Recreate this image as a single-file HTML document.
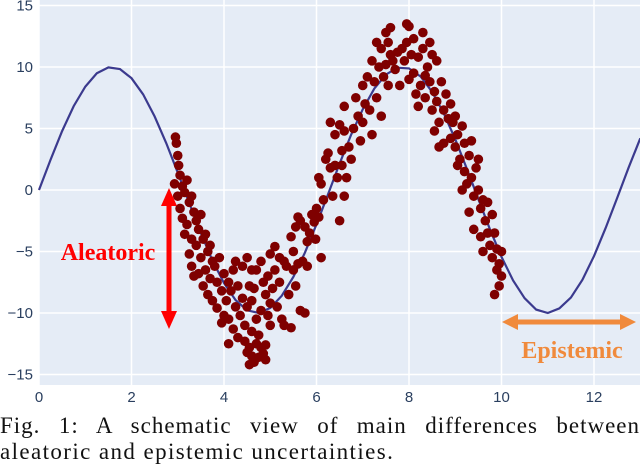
<!DOCTYPE html>
<html><head><meta charset="utf-8"><style>
body{margin:0;width:640px;height:470px;background:#fff;overflow:hidden;font-family:"Liberation Sans",sans-serif}
#cap{position:absolute;left:0;top:413px;width:640px;font-family:"Liberation Serif",serif;font-size:23px;letter-spacing:1.4px;line-height:26px;color:#111;text-align:justify;text-align-last:left}
#cap .l1{display:block;text-align:justify;text-align-last:justify;letter-spacing:1px}
</style></head><body>
<svg id="chart" width="640" height="405" style="position:absolute;left:0;top:0" xmlns="http://www.w3.org/2000/svg">
<rect x="39" y="0" width="601" height="385" fill="#e5ecf6"/>
<g id="grid"></g>
<g id="ticks" font-size="15" fill="#2a3f5f"></g>
<path id="curve" fill="none" stroke="#3b3a8e" stroke-width="2.2"/>
<g id="pts" fill="#7f0000"></g>
<g fill="#ff0000">
<rect x="166.5" y="202" width="5" height="114"/>
<polygon points="169,188 161,206 177,206"/>
<polygon points="169,329 161,311 177,311"/>
</g>
<text x="108" y="260" text-anchor="middle" font-family="Liberation Serif,serif" font-weight="bold" font-size="24" fill="#ff0000">Aleatoric</text>
<g fill="#f08a3c">
<rect x="515" y="319.5" width="108" height="5"/>
<polygon points="502,322 518,314 518,330"/>
<polygon points="636,322 620,314 620,330"/>
</g>
<text x="572" y="358" text-anchor="middle" font-family="Liberation Serif,serif" font-weight="bold" font-size="24" fill="#f08a3c">Epistemic</text>
</svg>
<div id="cap"><span class="l1">Fig. 1: A schematic view of main differences between</span>aleatoric and epistemic uncertainties.</div>
<script>
const xTicks=[0,2,4,6,8,10,12];
const yTicks=[15,10,5,0,-5,-10,-15];
const curveX0=0, curveStep=0.25;
const curveY=[0,2.47,4.79,6.82,8.41,9.49,9.97,9.84,9.09,7.78,5.98,3.82,1.41,-1.08,-3.51,-5.72,-7.57,-8.95,-9.78,-9.99,-9.59,-8.59,-7.06,-5.10,-2.79,-0.33,2.15,4.51,6.57,8.24,9.38,9.94,9.89,9.23,7.98,6.24,4.12,1.74,-0.75,-3.19,-5.44,-7.36,-8.80,-9.72,-10.0,-9.63,-8.75,-7.30,-5.37,-3.10,-0.66,1.84,4.20];
const points=[[2.95,4.3],[2.97,3.8],[3.0,2.8],[3.02,2.0],[3.05,1.2],[2.93,0.5],[3.1,0.3],[3.0,-0.5],[3.15,-0.2],[3.2,0.8],[3.05,-1.5],[3.1,-2.3],[3.25,-1.0],[3.3,-0.5],[3.2,-2.8],[3.35,-1.8],[3.4,-2.5],[3.15,-3.6],[3.3,-4.0],[3.45,-3.2],[3.5,-2.0],[3.4,-4.5],[3.25,-5.2],[3.55,-4.0],[3.3,-6.2],[3.5,-5.5],[3.6,-3.6],[3.35,-7.0],[3.65,-5.0],[3.45,-6.8],
[3.6,-6.5],[3.7,-4.5],[3.75,-5.8],[3.55,-7.8],[3.7,-7.2],[3.8,-6.2],[3.65,-8.5],[3.85,-7.5],[3.9,-5.5],[3.75,-9.0],[3.95,-8.2],[4.0,-6.8],[3.85,-9.6],[4.05,-9.0],[4.1,-7.5],[4.0,-10.2],[4.15,-8.2],[4.2,-6.5],[3.95,-10.8],[4.1,-10.5],[4.25,-9.5],[4.3,-7.8],[4.2,-11.3],[4.35,-10.2],[4.4,-8.8],[4.3,-12.0],[4.45,-11.0],[4.5,-9.5],[4.1,-12.5],[4.4,-6.2],[4.5,-5.5],[4.25,-5.8],[4.6,-6.5],[4.55,-7.8],
[4.45,-12.3],[4.55,-12.8],[4.6,-13.5],[4.5,-13.2],[4.7,-12.5],[4.75,-13.6],[4.65,-14.0],[4.8,-12.8],[4.85,-13.3],[4.9,-12.6],[4.6,-11.5],[4.75,-11.8],[4.9,-13.8],[4.55,-14.2],[4.7,-10.5],[4.8,-9.8],[4.6,-9.0],[4.9,-8.5],[4.95,-10.2],[5.0,-9.2],[4.85,-7.5],[4.7,-6.5],[4.95,-7.0],[5.0,-11.0],[4.65,-8.0],[4.8,-5.8],
[5.05,-8.0],[5.1,-6.5],[5.15,-9.5],[5.2,-7.5],[5.25,-10.5],[5.3,-11.0],[5.2,-5.5],[5.35,-6.2],[5.4,-8.5],[5.45,-11.2],[5.5,-6.5],[5.55,-7.8],[5.6,-6.0],[5.65,-9.8],[5.7,-5.8],[5.75,-10.0],[5.8,-6.2],[5.3,-5.8],[5.5,-5.0],[5.0,-5.2],[5.1,-4.6],
[5.55,-3.0],[5.6,-2.2],[5.65,-2.5],[5.75,-3.0],[5.8,-4.2],[5.9,-2.0],[5.95,-2.6],[6.0,-1.5],[6.05,-2.2],[5.85,-3.5],[5.45,-3.8],[6.1,-5.5],[5.98,-4.0],[6.05,1.0],[6.1,0.5],[6.2,2.5],[6.25,3.0],[6.3,1.8],[6.15,-0.8],[6.35,-0.5],[6.4,2.0],[6.45,1.0],[6.3,5.5],[6.4,4.5],[6.5,5.3],[6.55,3.2],[6.6,4.8],
[6.5,-2.5],[6.6,-0.5],[6.55,2.0],[6.65,1.0],[6.7,3.5],[6.75,2.5],[6.6,6.8],[6.8,5.0],[6.85,7.5],[6.9,6.0],[6.95,4.0],[7.0,5.5],[7.0,8.5],[7.05,7.0],[7.1,9.2],[7.15,6.5],[7.2,4.5],[7.2,10.5],[7.25,8.8],[7.3,7.5],[7.35,10.0],[7.4,6.0],[7.4,11.5],[7.45,9.2],[7.5,10.2],[7.5,12.8],[7.55,12.0],[7.55,8.5],[7.6,13.2],[7.6,11.0],[7.3,12.0],[7.65,10.5],[7.7,9.8],[7.75,11.2],
[7.8,8.5],[7.85,11.5],[7.9,10.5],[7.95,13.5],[8.0,13.3],[7.95,12.0],[8.0,9.0],[8.05,11.0],[8.1,12.3],[8.1,9.5],[8.15,7.8],[8.2,10.8],[8.25,8.5],[8.3,11.5],[8.35,9.3],[8.35,7.5],[8.4,10.0],[8.45,8.8],[8.5,11.0],[8.5,6.5],[8.55,8.0],[8.6,10.5],[8.6,7.2],[8.65,5.5],[8.7,8.8],[8.75,6.5],[8.8,7.8],[8.85,5.8],[8.9,7.0],[8.9,4.2],[8.95,5.5],[9.0,6.0],[8.2,6.8],[8.55,4.8],[8.65,3.5],[8.75,3.8],[8.3,12.8],[8.45,12.0],
[9.0,3.5],[9.05,4.5],[9.1,2.5],[9.15,5.2],[9.2,1.5],[9.2,3.8],[9.25,0.5],[9.3,2.8],[9.35,1.0],[9.35,4.0],[9.4,-0.5],[9.45,1.8],[9.5,0.0],[9.55,-1.5],[9.5,2.5],[9.6,-0.8],[9.65,-2.5],[9.7,-1.0],[9.7,-3.5],[9.75,-4.5],[9.8,-2.0],[9.8,-5.5],[9.85,-3.5],[9.9,-4.8],[9.9,-6.5],[9.95,-6.0],[10.0,-7.0],[10.0,-5.0],[9.6,-5.0],[9.4,-3.2],[9.55,-3.8],[9.3,-1.8],[9.15,0.0],[9.05,2.0],[9.85,-8.5],[9.95,-7.8]];
const NS="http://www.w3.org/2000/svg";
const sx=v=>39+v*46.25, sy=v=>190-v*12.3;
const grid=document.getElementById('grid'), ticks=document.getElementById('ticks');
function mk(t,a,p){const e=document.createElementNS(NS,t);for(const k in a)e.setAttribute(k,a[k]);p.appendChild(e);return e;}
xTicks.forEach(v=>{
 const l=mk('line',{x1:sx(v),x2:sx(v),y1:0,y2:385,stroke:'#fff','stroke-width':1.5},grid);
 
 
 const t=mk('text',{x:sx(v),y:402,'text-anchor':'middle'},ticks);t.textContent=v;
 
 
});
yTicks.forEach(v=>{
 const l=mk('line',{x1:39,x2:640,y1:sy(v),y2:sy(v),stroke:'#fff','stroke-width':1.5},grid);
 
 
 const t=mk('text',{x:33,y:sy(v)+5,'text-anchor':'end'},ticks);t.textContent=String(v).replace('-','\u2212');
 
 
});
document.getElementById('curve').setAttribute('d',curveY.map((y,i)=>(i?'L':'M')+sx(curveX0+i*curveStep).toFixed(1)+','+sy(y).toFixed(1)).join(''));
const pg=document.getElementById('pts');
points.forEach(p=>{
 const c=mk('circle',{cx:sx(p[0]),cy:sy(p[1]),r:4.8},pg);
 
 
});
</script>
</body></html>
